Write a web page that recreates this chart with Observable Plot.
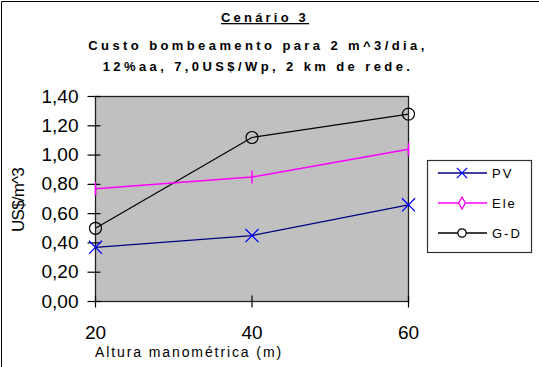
<!DOCTYPE html>
<html><head><meta charset="utf-8">
<script src="https://cdn.jsdelivr.net/npm/d3@7"></script>
<script src="https://cdn.jsdelivr.net/npm/@observablehq/plot@0.6"></script>
<style>body{margin:0;background:#fff;} svg{display:block;}</style>
</head><body><div id="chart"></div>
<script>
const alturas = [20, 40, 60];
const pv = [0.37, 0.45, 0.66];
const ele = [0.77, 0.85, 1.04];
const gd = [0.50, 1.12, 1.28];
const yTicks = [0, 0.2, 0.4, 0.6, 0.8, 1.0, 1.2, 1.4];
const seriesNames = ["PV", "Ele", "G-D"];
const titulo = "Cenário 3";
const subtitulo = ["Custo bombeamento para 2 m^3/dia,", "12%aa, 7,0US$/Wp, 2 km de rede."];
const xLabel = "Altura manométrica (m)";
const yLabel = "US$/m^3";

const toRows = (vals) => alturas.map((a, i) => ({x: a, y: vals[i]}));
const rowsPV = toRows(pv), rowsEle = toRows(ele), rowsGD = toRows(gd);

const vBar = {draw(ctx, size) { const r = Math.sqrt(size / Math.PI); ctx.moveTo(0, -r); ctx.lineTo(0, r); }};
const yTickSym = {draw(ctx) { ctx.moveTo(-8, 0); ctx.lineTo(5, 0); }};
const xTickSym = {draw(ctx) { ctx.moveTo(0, -6); ctx.lineTo(0, 6); }};

const svg = Plot.plot({
  width: 539, height: 367,
  marginLeft: 95, marginRight: 131, marginTop: 96, marginBottom: 66,
  style: {fontFamily: "'Liberation Sans', Arial, sans-serif", fontSize: "19px", background: "#fff", color: "#000"},
  x: {domain: [20, 60]},
  y: {domain: [0, 1.4]},
  marks: [
    Plot.frame({fill: "#c0c0c0"}),
    Plot.line(rowsGD, {x: "x", y: "y", stroke: "#000", strokeWidth: 1.2}),
    Plot.line(rowsEle, {x: "x", y: "y", stroke: "#ff00ff", strokeWidth: 1.5}),
    Plot.line(rowsPV, {x: "x", y: "y", stroke: "#000080", strokeWidth: 1.2}),
    Plot.frame({stroke: "#222", strokeWidth: 1.3}),
    Plot.dot(yTicks, {x: () => 20, y: d => d, symbol: yTickSym, stroke: "#000", fill: "none", strokeWidth: 1.2}),
    Plot.dot(alturas, {x: d => d, y: () => 0, symbol: xTickSym, stroke: "#000", fill: "none", strokeWidth: 1.2}),
    Plot.dot(rowsGD, {x: "x", y: "y", r: 6, symbol: "circle", stroke: "#000", fill: "none", strokeWidth: 1.2}),
    Plot.dot(rowsEle, {x: "x", y: "y", r: 6.5, symbol: vBar, stroke: "#ff00ff", fill: "none", strokeWidth: 1.5}),
    Plot.dot(rowsPV, {x: "x", y: "y", r: 6, symbol: "times", stroke: "#0000ff", fill: "none", strokeWidth: 1.3}),
    Plot.axisY({ticks: yTicks, tickSize: 0, tickPadding: 17, tickFormat: d => d.toFixed(2).replace(".", ","), label: null}),
    Plot.axisX({ticks: alturas, tickSize: 0, tickPadding: 24, label: null})
  ]
});

const s = d3.select(svg);
s.append("path").attr("d", "M1.5,367 V1.5 H539").attr("fill", "none").attr("stroke", "#000").attr("stroke-width", 1);
const tf = "'Liberation Sans', Arial, sans-serif";
s.append("text").attr("x", 265).attr("y", 22).attr("text-anchor", "middle")
  .attr("font-family", tf).attr("font-weight", "bold").attr("font-size", 13).attr("letter-spacing", 3.2)
  .attr("text-decoration", "underline").text(titulo);
subtitulo.forEach((t, i) => {
  s.append("text").attr("x", 258).attr("y", 50 + i * 21).attr("text-anchor", "middle")
    .attr("font-family", tf).attr("font-weight", "bold").attr("font-size", 13).attr("letter-spacing", 3.4).text(t);
});
s.append("text").attr("x", 189).attr("y", 357).attr("text-anchor", "middle")
  .attr("font-family", tf).attr("font-size", 14).attr("letter-spacing", 1.9).text(xLabel);
s.append("text").attr("transform", "translate(24,200) rotate(-90)").attr("text-anchor", "middle")
  .attr("font-family", tf).attr("font-size", 17).attr("letter-spacing", -0.8).text(yLabel);

// legend
const lg = s.append("g");
lg.append("rect").attr("x", 427.5).attr("y", 160.5).attr("width", 104).attr("height", 92)
  .attr("fill", "#fff").attr("stroke", "#333").attr("stroke-width", 1.2);
const lstyles = [
  {line: "#000080", mark: "#0000ff", sym: d3.symbolTimes, size: 70},
  {line: "#ff00ff", mark: "#ff00ff", sym: d3.symbolDiamond, size: 40},
  {line: "#000", mark: "#000", sym: d3.symbolCircle, size: 55}
];
seriesNames.forEach((n, i) => {
  const y = 173 + i * 30;
  lg.append("line").attr("x1", 438).attr("x2", 487).attr("y1", y).attr("y2", y).attr("stroke", lstyles[i].line).attr("stroke-width", 1.3);
  lg.append("path").attr("transform", `translate(462,${y})`).attr("d", d3.symbol(lstyles[i].sym, lstyles[i].size)())
    .attr("fill", "#fff").attr("stroke", lstyles[i].mark).attr("stroke-width", 1.3);
  lg.append("text").attr("x", 492).attr("y", y + 5).attr("text-anchor", "start").attr("font-family", tf).attr("font-size", 13).attr("letter-spacing", 2).text(n);
});
document.getElementById("chart").appendChild(svg);
</script></body></html>
